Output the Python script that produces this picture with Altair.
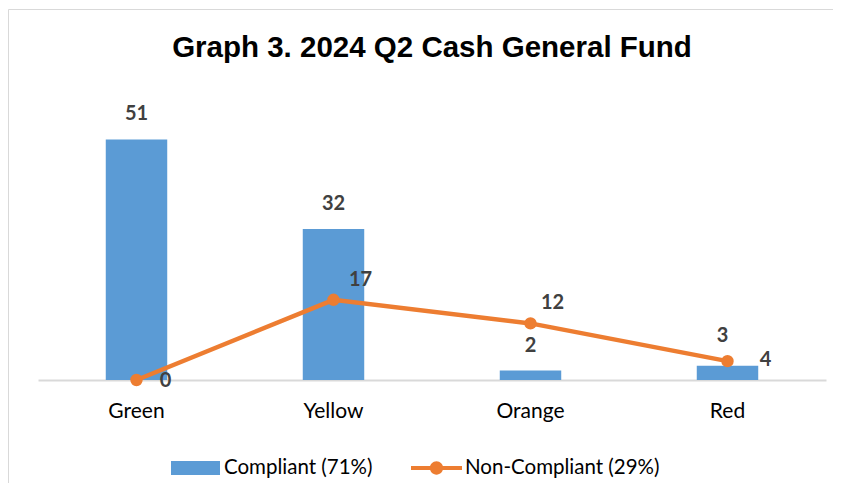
import altair as alt
import pandas as pd

# ---- data ----
categories = ["Green", "Yellow", "Orange", "Red"]
compliant = [51, 32, 2, 3]
non_compliant = [0, 17, 12, 4]
compliant_label = "Compliant (71%)"
non_compliant_label = "Non-Compliant (29%)"
title_text = "Graph 3. 2024 Q2 Cash General Fund"

# ---- styles (label offsets per category, in pixels) ----
bar_label_dx = [0, 0, 0, -5]
bar_label_dy = [-25, -25, -25, -30]
line_label_dx = [29, 27, 22, 38]
line_label_dy = [1, -20, -20, -1]

BLUE = "#5B9BD5"
ORANGE = "#ED7D31"
LABEL_GREY = "#404040"
FONT = "Lato"

df = pd.DataFrame({
    "category": categories,
    "compliant": compliant,
    "noncompliant": non_compliant,
    "comp_series": [compliant_label] * len(categories),
    "nc_series": [non_compliant_label] * len(categories),
})

yscale = alt.Scale(domain=[0, 60], nice=False, zero=True)

base = alt.Chart(df).encode(
    x=alt.X(
        "category:N",
        sort=categories,
        scale=alt.Scale(paddingInner=0.688, paddingOuter=0.344),
        axis=alt.Axis(
            title=None, labelAngle=0, ticks=False, tickSize=0, grid=False,
            domainColor="#d9d9d9", domainWidth=2,
            labelFont=FONT, labelFontSize=21, labelColor="#000000",
            labelPadding=20,
        ),
    )
)

bar_symbol = "M-1,-0.29H1V0.29H-1Z"
line_symbol = ("M-1,-0.08H1V0.08H-1Z "
               "M0.26,0A0.26,0.26,0,1,1,-0.26,0A0.26,0.26,0,1,1,0.26,0Z")

bars = base.mark_bar().encode(
    y=alt.Y("compliant:Q", scale=yscale, axis=None),
    color=alt.Color(
        "comp_series:N",
        scale=alt.Scale(domain=[compliant_label], range=[BLUE]),
        legend=alt.Legend(
            orient="none", legendX=133, legendY=346.5, title=None,
            symbolType=bar_symbol, symbolSize=2401, symbolStrokeWidth=0,
            symbolOpacity=1, labelFont=FONT, labelFontSize=20.5,
            labelColor="#000000", labelOffset=4, padding=0, labelLimit=0,
        ),
    ),
)

line = base.mark_line(color=ORANGE, strokeWidth=4.5).encode(
    y=alt.Y("noncompliant:Q", scale=yscale, axis=None),
)

points = base.mark_circle(size=154, opacity=1).encode(
    y=alt.Y("noncompliant:Q", scale=yscale, axis=None),
    fill=alt.Fill(
        "nc_series:N",
        scale=alt.Scale(domain=[non_compliant_label], range=[ORANGE]),
        legend=alt.Legend(
            orient="none", legendX=373, legendY=345.5, title=None,
            symbolType=line_symbol, symbolSize=2601, symbolStrokeWidth=0,
            symbolOpacity=1, labelFont=FONT, labelFontSize=20.5,
            labelColor="#000000", labelOffset=3, padding=0, labelLimit=0,
        ),
    ),
)

label_layers = []
for i, cat in enumerate(categories):
    sub = base.transform_filter(alt.datum.category == cat)
    label_layers.append(
        sub.mark_text(
            font=FONT, fontSize=20, fontWeight="bold", color=LABEL_GREY,
            align="center", baseline="middle",
            dx=bar_label_dx[i], dy=bar_label_dy[i],
        ).encode(
            y=alt.Y("compliant:Q", scale=yscale, axis=None),
            text=alt.Text("compliant:Q"),
        )
    )
    label_layers.append(
        sub.mark_text(
            font=FONT, fontSize=20, fontWeight="bold", color=LABEL_GREY,
            align="center", baseline="middle",
            dx=line_label_dx[i], dy=line_label_dy[i],
        ).encode(
            y=alt.Y("noncompliant:Q", scale=yscale, axis=None),
            text=alt.Text("noncompliant:Q"),
        )
    )

# light frame around the whole chart area (decoration)
frame = alt.Chart(pd.DataFrame({"k": [0]})).mark_rect(
    fill="transparent", stroke="#d9d9d9", strokeWidth=1
).encode(
    x=alt.value(-29.5), x2=alt.value(900),
    y=alt.value(-87.5), y2=alt.value(600),
)

chart = alt.layer(frame, bars, line, points, *label_layers).properties(
    width=788,
    height=283,
    autosize=alt.AutoSizeParams(type="none"),
    padding={"left": 30, "top": 89, "right": 7, "bottom": 103},
    background="white",
    title=alt.Title(
        title_text, font="Liberation Sans", fontSize=29.5, fontWeight="bold",
        color="#000000", anchor="middle", offset=-77.5, baseline="alphabetic",
    ),
).configure_view(stroke=None)

chart.save("out.html", embed_options={"renderer": "svg", "actions": False})
